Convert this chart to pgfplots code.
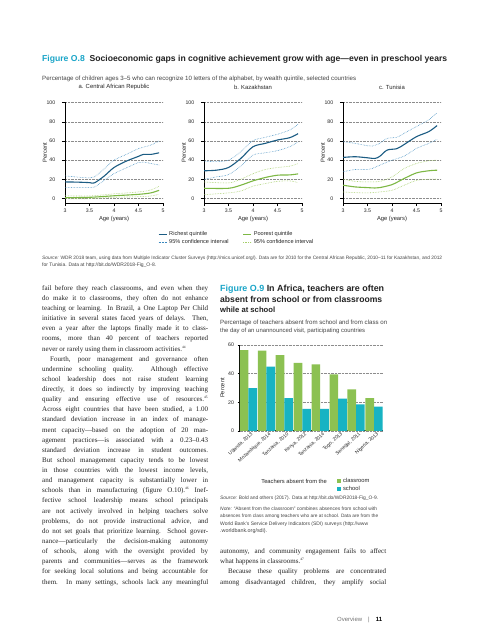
\documentclass[border=0pt]{standalone}
\usepackage{pgfplots}
\pgfplotsset{compat=1.18}
\usepackage{fontspec}
\usepackage{graphicx}
\setmainfont{Liberation Serif}
\setsansfont{Liberation Sans}
\definecolor{figteal}{HTML}{1AA5C8}
\definecolor{titlec}{HTML}{222222}
\definecolor{richc}{HTML}{1B5C83}
\definecolor{richci}{HTML}{3A88BE}
\definecolor{poorc}{HTML}{7DB844}
\definecolor{poorci}{HTML}{A6CF6B}
\definecolor{barg}{HTML}{8CC152}
\definecolor{bart}{HTML}{17B3C3}
\definecolor{srcc}{HTML}{444444}
\newcommand{\bodyfont}{\rmfamily\fontsize{7}{8}\selectfont\color{titlec}}
\newcommand{\bl}[3]{\node[anchor=base west, inner sep=0pt] at (#1pt, {640pt-#2pt}) {\bodyfont\makebox[166pt][s]{#3}};}
\newcommand{\br}[3]{\node[anchor=base west, inner sep=0pt] at (#1pt, {640pt-#2pt}) {\bodyfont #3};}
\newcommand{\rl}[4]{\node[anchor=west, inner sep=0pt] at (#1pt, {640pt-#2pt}) {\resizebox{#3pt}{!}{#4}};}
\newcommand{\fnsup}[1]{\textsuperscript{\fontsize{3.5}{4}\selectfont #1}}
\pgfplotsset{
  rich/.style={color=richc, line width=1.1pt, smooth},
  richci/.style={color=richci, densely dotted, line width=0.55pt, smooth},
  poor/.style={color=poorc, line width=1.1pt, smooth},
  poorci/.style={color=poorci, densely dotted, line width=0.6pt, smooth},
  panel/.style={scale only axis, width=98pt, height=100.5pt, anchor=south west,
    xmin=3, xmax=5, ymin=-4.5, ymax=100,
    xtick={3,3.5,4,4.5,5}, ytick={0,20,40,60,80,100},
    axis lines*=left, axis line style={black, line width=0.6pt},
    ymajorgrids, grid style={densely dotted, black!45, line width=0.45pt},
    tick align=outside, major tick length=3.2pt, tick style={black, line width=0.4pt},
    /pgf/number format/assume math mode=true,
    ticklabel style={font=\sffamily\fontsize{5.2}{6}\selectfont, text=black!85},
    xticklabel style={yshift=1pt},
    yticklabel style={xshift=-3pt},
    ylabel={Percent}, xlabel={Age (years)},
    label style={font=\sffamily\fontsize{5.8}{6.5}\selectfont, text=black!85},
    ylabel style={at={(axis description cs:-0.205,0.5)}, anchor=center},
    xlabel style={yshift=3pt},
    title style={font=\sffamily\fontsize{5.9}{6.5}\selectfont, text=black!85, at={(0.5,1)}, anchor=south, yshift=3pt},
    legend image code/.code={\draw[#1] (0pt,0pt) -- (8pt,0pt);},
  },
}
\begin{document}
\begin{tikzpicture}
\fill[white] (0,0) rectangle (488pt,640pt);
\path[use as bounding box] (0,0) rectangle (488pt,640pt);

% ---------- Figure O.8 heading
\rl{42}{59}{405}{\sffamily\bfseries\color{figteal}Figure O.8\ \ \color{titlec}Socioeconomic gaps in cognitive achievement grow with age—even in preschool years}
\rl{42}{79}{314}{\sffamily\color{srcc}Percentage of children ages 3–5 who can recognize 10 letters of the alphabet, by wealth quintile, selected countries}

% ---------- panel a
\begin{axis}[panel, at={(65pt,437pt)}, title={a. Central African Republic}]
\addplot[richci] coordinates {(3,23.7) (3.25,22.5) (3.5,21.6) (3.6,22.6) (3.8,31) (4,40) (4.25,46) (4.5,52) (4.75,55.7) (4.92,60)};
\addplot[richci] coordinates {(3,11.5) (3.25,11.5) (3.5,11.5) (3.6,12) (3.8,19) (4,26) (4.25,32) (4.5,37.6) (4.6,38) (4.75,36.6) (4.92,35)};
\addplot[poorci] coordinates {(3,3) (3.5,2.8) (4,5) (4.5,7) (4.75,9) (4.92,13)};
\addplot[poorci] coordinates {(3,0) (3.5,0) (4,1.4) (4.5,2) (4.75,2.8) (4.92,4.5)};
\addplot[poor] coordinates {(3,1) (3.5,1.4) (4,3) (4.5,4.5) (4.75,6) (4.92,8.7)};
\addplot[rich] coordinates {(3,17.4) (3.25,17.2) (3.5,16.7) (3.6,16.4) (3.8,23.5) (4,32.4) (4.25,39) (4.5,44) (4.6,46) (4.75,46) (4.92,47.7)};
\end{axis}

% ---------- panel b
\begin{axis}[panel, at={(204pt,437pt)}, title={b. Kazakhstan},
  legend columns=2, legend cell align=left,
  legend style={draw=none, fill=none, at={(-0.47,-0.26)}, anchor=north west,
    font=\sffamily\fontsize{5.6}{6.5}\selectfont, text=black!85, row sep=-1.5pt, inner sep=0pt,
    /tikz/every even column/.append style={column sep=12pt}}]
\addlegendimage{rich}\addlegendentry{Richest quintile}
\addlegendimage{poor}\addlegendentry{Poorest quintile}
\addlegendimage{richci}\addlegendentry{95\% confidence interval}
\addlegendimage{poorci}\addlegendentry{95\% confidence interval}
\addplot[richci, forget plot] coordinates {(3,39) (3.25,38.5) (3.5,40) (3.75,48.8) (4,60.3) (4.25,63.8) (4.5,67) (4.75,71.4) (4.92,77.4)};
\addplot[richci, forget plot] coordinates {(3,20) (3.25,22.6) (3.5,25) (3.75,33.8) (4,45.3) (4.25,47.7) (4.5,50) (4.75,54) (4.92,59)};
\addplot[poorci, forget plot] coordinates {(3,17.4) (3.5,16.4) (3.75,20.2) (4,26) (4.25,30.3) (4.5,32.4) (4.75,33.8) (4.92,36.6)};
\addplot[poorci, forget plot] coordinates {(3,4.2) (3.5,6) (3.75,8) (4,13) (4.25,15.7) (4.5,18) (4.75,18.5) (4.92,16.7)};
\addplot[poor, forget plot] coordinates {(3,10.8) (3.5,10.8) (3.75,14) (4,18.5) (4.25,22) (4.5,24.4) (4.75,24.7) (4.92,25.8)};
\addplot[rich, forget plot] coordinates {(3,29) (3.25,29.6) (3.5,32.4) (3.75,41.8) (4,54) (4.25,57.5) (4.5,61) (4.75,63.4) (4.92,67.6)};
\end{axis}

% ---------- panel c
\begin{axis}[panel, at={(343pt,437pt)}, title={c. Tunisia}]
\addplot[richci] coordinates {(3,59.2) (3.25,57.5) (3.5,55) (3.6,54.7) (3.75,57.5) (3.9,62.7) (4.1,63.8) (4.25,68) (4.5,75) (4.75,82) (4.92,89.5)};
\addplot[richci] coordinates {(3,28) (3.25,30.3) (3.5,30.3) (3.6,31.4) (3.75,34.8) (4,40) (4.25,44.3) (4.5,52.3) (4.75,57.5) (4.92,61.7)};
\addplot[poorci] coordinates {(3,20.2) (3.25,18) (3.5,17.4) (3.75,18) (4,22.6) (4.25,31.4) (4.5,36.6) (4.75,39.4) (4.92,40)};
\addplot[poorci] coordinates {(3,7) (3.25,6.3) (3.5,6) (3.75,7) (4,8.7) (4.25,14) (4.5,19) (4.75,20.2) (4.92,20.2)};
\addplot[poor] coordinates {(3,14) (3.25,12.2) (3.5,11.5) (3.65,11.1) (3.75,11.5) (4,14.6) (4.25,21) (4.5,26.8) (4.75,29) (4.92,29.6)};
\addplot[rich] coordinates {(3,42.9) (3.25,43.6) (3.5,42.5) (3.65,41.8) (3.75,44) (3.9,50.5) (4.1,52) (4.25,56.4) (4.5,64.5) (4.75,69.7) (4.92,76)};
\end{axis}

% ---------- source O.8
\rl{42}{258}{400}{\sffamily\color{srcc}\textit{Source:} WDR 2018 team, using data from Multiple Indicator Cluster Surveys (http://mics.unicef.org/). Data are for 2010 for the Central African Republic, 2010–11 for Kazakhstan, and 2012}
\rl{42}{265}{114}{\sffamily\color{srcc}for Tunisia. Data at http://bit.do/WDR2018-Fig\_O-8.}

% ---------- left column body
\bl{42}{290.3}{fail before they reach classrooms, and even when they}
\bl{42}{300.4}{do make it to classrooms, they often do not enhance}
\bl{42}{310.6}{teaching or learning. In Brazil, a One Laptop Per Child}
\bl{42}{320.7}{initiative in several states faced years of delays. Then,}
\bl{42}{330.8}{even a year after the laptops finally made it to class-}
\bl{42}{341.0}{rooms, more than 40 percent of teachers reported}
\br{42}{351.1}{never or rarely using them in classroom activities.\fnsup{44}}
\bl{42}{361.2}{\hspace*{8pt}Fourth, poor management and governance often}
\bl{42}{371.3}{undermine schooling quality. Although effective}
\bl{42}{381.5}{school leadership does not raise student learning}
\bl{42}{391.6}{directly, it does so indirectly by improving teaching}
\bl{42}{401.7}{quality and ensuring effective use of resources.\fnsup{45}}
\bl{42}{411.9}{Across eight countries that have been studied, a 1.00}
\bl{42}{422.0}{standard deviation increase in an index of manage-}
\bl{42}{432.1}{ment capacity—based on the adoption of 20 man-}
\bl{42}{442.3}{agement practices—is associated with a 0.23–0.43}
\bl{42}{452.4}{standard deviation increase in student outcomes.}
\bl{42}{462.5}{But school management capacity tends to be lowest}
\bl{42}{472.6}{in those countries with the lowest income levels,}
\bl{42}{482.8}{and management capacity is substantially lower in}
\bl{42}{492.9}{schools than in manufacturing (figure O.10).\fnsup{46} Inef-}
\bl{42}{503.0}{fective school leadership means school principals}
\bl{42}{513.2}{are not actively involved in helping teachers solve}
\bl{42}{523.3}{problems, do not provide instructional advice, and}
\bl{42}{533.4}{do not set goals that prioritize learning. School gover-}
\bl{42}{543.6}{nance—particularly the decision-making autonomy}
\bl{42}{553.7}{of schools, along with the oversight provided by}
\bl{42}{563.8}{parents and communities—serves as the framework}
\bl{42}{573.9}{for seeking local solutions and being accountable for}
\bl{42}{584.1}{them. In many settings, schools lack any meaningful}

% ---------- Figure O.9 heading
\rl{220}{289}{164}{\sffamily\bfseries\color{figteal}Figure O.9\ \color{titlec}In Africa, teachers are often}
\rl{220}{299.5}{162}{\sffamily\bfseries\color{titlec}absent from school or from classrooms}
\rl{220}{310}{55}{\sffamily\bfseries\color{titlec}while at school}
\rl{220}{322.5}{167}{\sffamily\color{srcc}Percentage of teachers absent from school and from class on}
\rl{220}{330.5}{145}{\sffamily\color{srcc}the day of an unannounced visit, participating countries}

% ---------- bar chart
\begin{axis}[at={(239.5pt,209pt)}, anchor=south west, scale only axis,
  width=143.5pt, height=86pt, ymin=0, ymax=60, xmin=-0.5, xmax=7.5,
  ybar=0pt, bar width=8.6pt,
  xtick={0,1,2,3,4,5,6,7},
  xticklabels={{Uganda, 2013},{Mozambique, 2014},{Tanzania, 2010},{Kenya, 2012},{Tanzania, 2014},{Togo, 2013},{Senegal, 2011},{Nigeria, 2013}},
  ytick={0,20,40,60},
  axis lines*=left, x axis line style={black, line width=1pt}, y axis line style={black, line width=0.5pt},
  ymajorgrids, grid style={densely dotted, black!45, line width=0.45pt},
  tick align=outside, major tick length=2pt, ytick style={black, line width=0.4pt}, xtick style={draw=none},
  /pgf/number format/assume math mode=true,
  ticklabel style={font=\sffamily\fontsize{5.2}{6}\selectfont, text=black!85},
  xticklabel style={rotate=42, anchor=north east, inner sep=0.5pt, xshift=3pt, font=\sffamily\fontsize{4.9}{5.5}\selectfont},
  ylabel={Percent}, ylabel style={font=\sffamily\fontsize{5.8}{6.5}\selectfont, text=black!85, yshift=-3pt},
  legend cell align=left,
  legend image code/.code={\fill[#1] (0pt,-2.2pt) rectangle (4.4pt,2.2pt);},
  legend style={draw=none, fill=none, at={(0.655,-0.5)}, anchor=north west,
    font=\sffamily\fontsize{5.8}{6.5}\selectfont, text=black!85, row sep=-2pt},
]
\addplot[fill=barg, draw=none] coordinates {(0,56.5) (1,56) (2,53) (3,47.5) (4,46.5) (5,39.5) (6,29) (7,23)};
\addlegendentry{classroom}
\addplot[fill=bart, draw=none] coordinates {(0,30) (1,45) (2,23) (3,15.5) (4,15.5) (5,22.5) (6,18.5) (7,17)};
\addlegendentry{school}
\end{axis}
\node[anchor=east, inner sep=0pt, font=\sffamily\fontsize{5.8}{6.5}\selectfont, text=black!85] at (327pt,{640pt-481pt}) {Teachers absent from the};

% ---------- source / note O.9
\rl{220}{498}{158}{\sffamily\color{srcc}\textit{Source:} Bold and others (2017). Data at http://bit.do/WDR2018-Fig\_O-9.}
\rl{220}{509}{157}{\sffamily\color{srcc}\textit{Note:} “Absent from the classroom” combines absences from school with}
\rl{220}{516.5}{158}{\sffamily\color{srcc}absences from class among teachers who are at school. Data are from the}
\rl{220}{524}{148}{\sffamily\color{srcc}World Bank’s Service Delivery Indicators (SDI) surveys (http://www}
\rl{220}{531.5}{47}{\sffamily\color{srcc}.worldbank.org/sdi).}

% ---------- right column body
\bl{220}{553.7}{autonomy, and community engagement fails to affect}
\br{220}{563.8}{what happens in classrooms.\fnsup{47}}
\bl{220}{573.9}{\hspace*{8pt}Because these quality problems are concentrated}
\bl{220}{584.1}{among disadvantaged children, they amplify social}

% ---------- footer
\node[anchor=base west, inner sep=0pt, font=\sffamily\fontsize{6}{7}\selectfont, text=black!55] at (337pt,{640pt-621pt}) {Overview\hspace{6pt}|\hspace{6pt}\textcolor{black}{\bfseries 11}};
\end{tikzpicture}
\end{document}
